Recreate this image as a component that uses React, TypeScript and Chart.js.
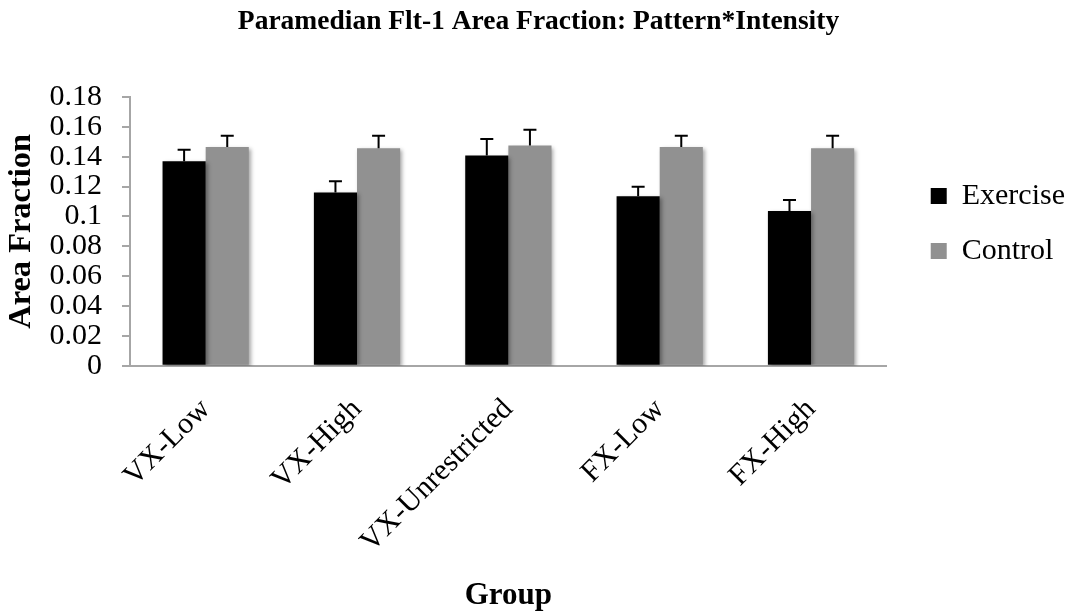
import React, { useEffect, useRef } from "react";
import { Chart, registerables } from "chart.js";

Chart.register(...registerables);

const categories = ["VX-Low", "VX-High", "VX-Unrestricted", "FX-Low", "FX-High"];
const exercise = [0.137, 0.1161, 0.1408, 0.1136, 0.1036];
const exerciseErr = [0.0076, 0.0074, 0.011, 0.0063, 0.0074];
const control = [0.1466, 0.1457, 0.1475, 0.1466, 0.1457];
const controlErr = [0.0074, 0.0083, 0.0105, 0.0074, 0.0083];
const yTicks = [0, 0.02, 0.04, 0.06, 0.08, 0.1, 0.12, 0.14, 0.16, 0.18];

const FONT = '"Liberation Serif", "Times New Roman", serif';
const AXIS_GRAY = "#a6a6a6";

const shadowPlugin = {
  id: "barShadow",
  beforeDatasetDraw(chart: any) {
    const ctx = chart.ctx;
    ctx.save();
    ctx.shadowColor = "rgba(0,0,0,0.35)";
    ctx.shadowBlur = 4;
    ctx.shadowOffsetX = 2;
    ctx.shadowOffsetY = 2;
  },
  afterDatasetDraw(chart: any) {
    chart.ctx.restore();
  },
};

const errorBarPlugin = {
  id: "errorBars",
  afterDatasetsDraw(chart: any) {
    const ctx = chart.ctx;
    const yScale = chart.scales.y;
    const errs = [exerciseErr, controlErr];
    chart.data.datasets.forEach((ds: any, di: number) => {
      const meta = chart.getDatasetMeta(di);
      meta.data.forEach((bar: any, i: number) => {
        const v = ds.data[i];
        const top = yScale.getPixelForValue(v + errs[di][i]);
        const base = yScale.getPixelForValue(v);
        ctx.save();
        ctx.strokeStyle = "#000";
        ctx.lineWidth = 2;
        ctx.beginPath();
        ctx.moveTo(bar.x, base);
        ctx.lineTo(bar.x, top);
        ctx.moveTo(bar.x - 6.5, top);
        ctx.lineTo(bar.x + 6.5, top);
        ctx.stroke();
        ctx.restore();
      });
    });
  },
};

export default function App() {
  const ref = useRef<HTMLCanvasElement | null>(null);

  useEffect(() => {
    document.body.style.margin = "0";
    if (!ref.current) return;
    const chart = new Chart(ref.current, {
      type: "bar",
      data: {
        labels: categories,
        datasets: [
          {
            label: "Exercise",
            data: exercise,
            backgroundColor: "#000000",
            categoryPercentage: 0.57,
            barPercentage: 1,
          },
          {
            label: "Control",
            data: control,
            backgroundColor: "#919191",
            categoryPercentage: 0.57,
            barPercentage: 1,
          },
        ],
      },
      options: {
        responsive: false,
        animation: false,
        layout: { padding: { left: 2, right: 0, bottom: 0, top: 0 } },
        plugins: {
          tooltip: { enabled: false },
          title: {
            display: true,
            text: "Paramedian Flt-1 Area Fraction: Pattern*Intensity",
            color: "#000",
            font: { family: FONT, size: 27.5, weight: "bold" },
            padding: { top: 5, bottom: 59 },
          },
          legend: {
            position: "right",
            fullSize: false,
            align: "start",
            title: {
              display: true,
              text: " ",
              font: { family: FONT, size: 12 },
              padding: { top: 44.6, bottom: 0 },
            },
            labels: {
              color: "#000",
              boxWidth: 16,
              boxHeight: 16,
              padding: 25,
              font: { family: FONT, size: 30 },
            },
          },
        },
        scales: {
          x: {
            grid: { display: false },
            border: { display: true, color: AXIS_GRAY, width: 2 },
            ticks: {
              color: "#000",
              font: { family: FONT, size: 30 },
              maxRotation: 45,
              minRotation: 45,
              autoSkip: false,
              padding: 18,
            },
            title: {
              display: true,
              text: "Group",
              color: "#000",
              font: { family: FONT, size: 31, weight: "bold" },
              padding: { top: 0, bottom: 0 },
            },
          },
          y: {
            min: 0,
            max: 0.18,
            afterBuildTicks(scale: any) {
              scale.ticks = yTicks.map((v) => ({ value: v }));
            },
            afterFit(scale: any) {
              scale.width = 128;
            },
            grid: {
              display: true,
              drawOnChartArea: false,
              drawTicks: true,
              tickLength: 8,
              color: AXIS_GRAY,
              lineWidth: 2,
            },
            border: { display: true, color: AXIS_GRAY, width: 2 },
            ticks: {
              color: "#000",
              font: { family: FONT, size: 30 },
              padding: 20,
              autoSkip: false,
              callback: (v: any) => String(Number(Number(v).toFixed(2))),
            },
            title: {
              display: true,
              text: "Area Fraction",
              color: "#000",
              font: { family: FONT, size: 32.4, weight: "bold" },
              padding: { top: 0, bottom: 0 },
            },
          },
          gap: {
            type: "linear",
            position: "right",
            display: true,
            grid: { display: false },
            border: { display: false },
            ticks: { display: false },
            afterFit(scale: any) {
              scale.width = 19;
            },
          },
        },
      },
      plugins: [shadowPlugin, errorBarPlugin],
    });
    return () => chart.destroy();
  }, []);

  return <canvas ref={ref} width={1075} height={615} />;
}
